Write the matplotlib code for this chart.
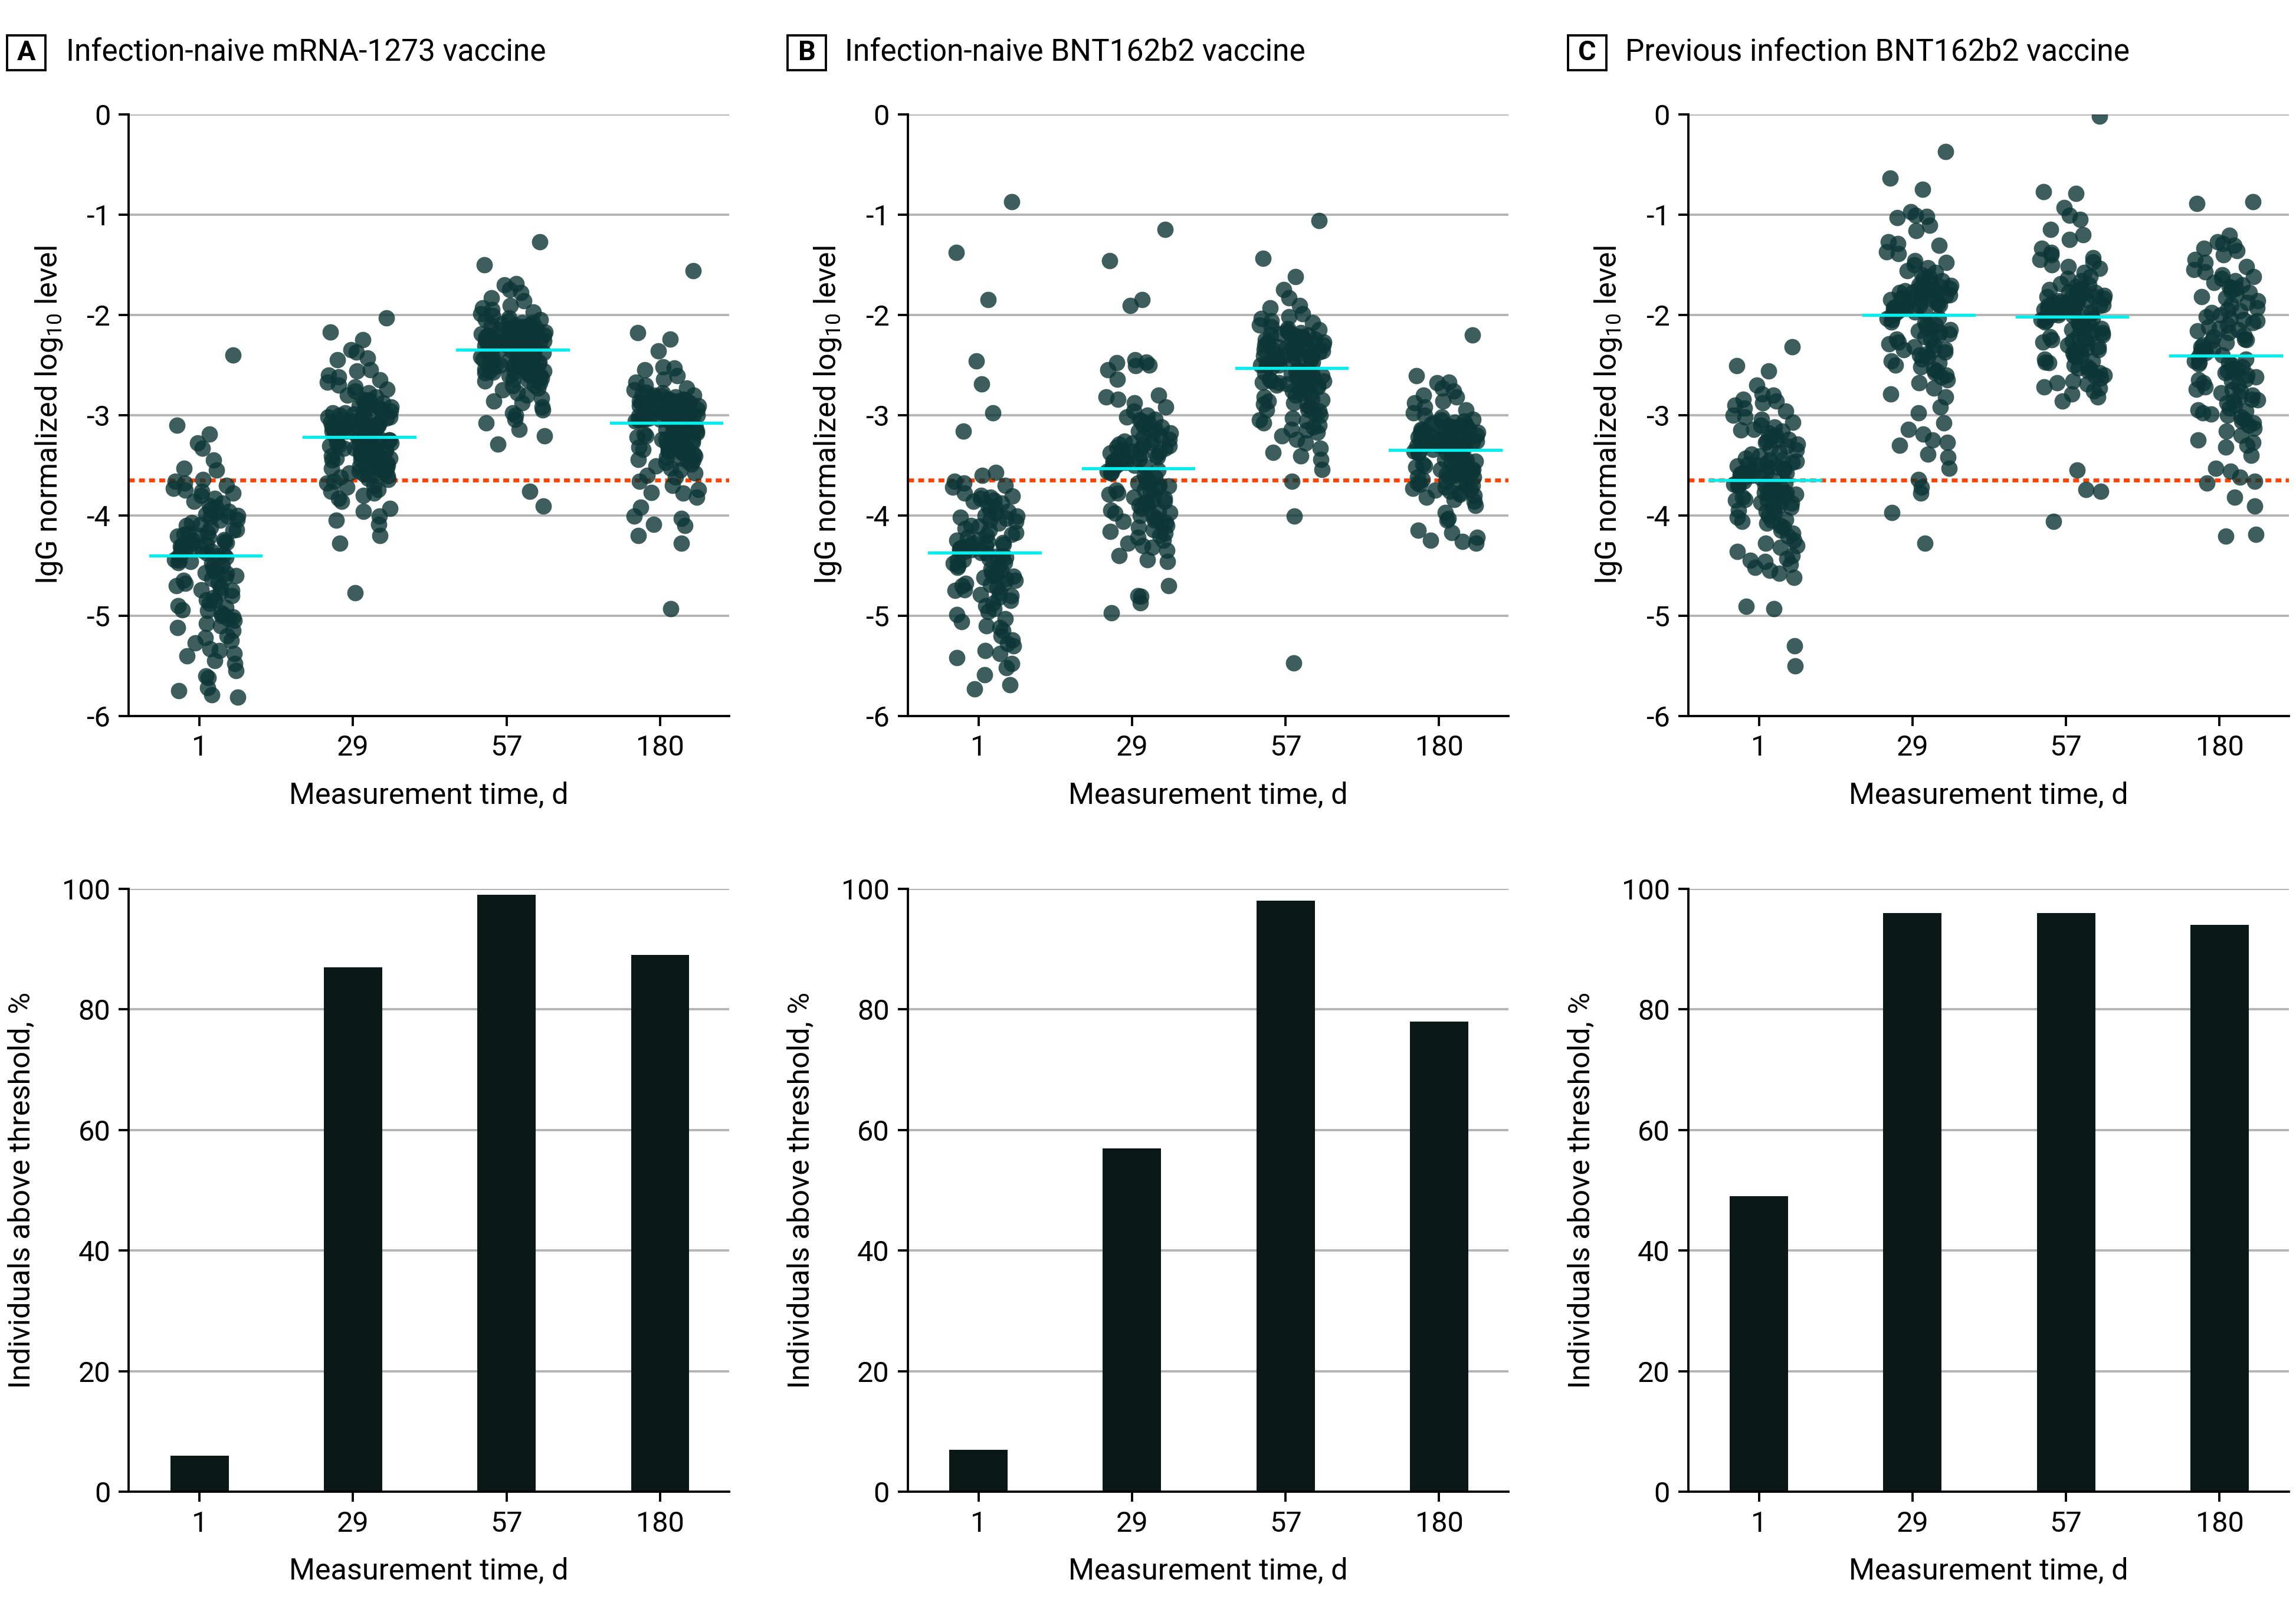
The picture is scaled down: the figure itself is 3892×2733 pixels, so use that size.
import numpy as np
import matplotlib
matplotlib.use('Agg')
import matplotlib.pyplot as plt
from matplotlib.patches import Rectangle

plt.rcParams['font.family'] = ['Roboto', 'DejaVu Sans']
plt.rcParams['mathtext.fontset'] = 'custom'
plt.rcParams['mathtext.rm'] = 'Roboto'
plt.rcParams['axes.unicode_minus'] = False

# ---- data ----
days = ['1', '29', '57', '180']
threshold = -3.65

titles = ['Infection-naive mRNA-1273 vaccine',
          'Infection-naive BNT162b2 vaccine',
          'Previous infection BNT162b2 vaccine']
panel_letters = ['A', 'B', 'C']

# IgG log10 levels (one list per panel and day)
a_d1 = [-2.40, -3.10, -3.19, -3.28, -3.33, -3.45, -3.53, -3.55,
        -3.64, -3.66, -3.68, -3.70, -3.73, -3.75, -3.76, -3.78, -3.80, -3.83, -3.86, -3.88, -3.90, -3.92,
        -3.94, -3.96, -3.97, -3.99, -4.00, -4.01, -4.02, -4.04, -4.05, -4.07, -4.09, -4.10, -4.12, -4.14,
        -4.15, -4.17, -4.18, -4.20, -4.21, -4.22, -4.24, -4.25, -4.26, -4.28, -4.29, -4.30, -4.31, -4.32,
        -4.33, -4.34, -4.35, -4.36, -4.37, -4.38, -4.39, -4.40, -4.27, -4.19,
        -4.41, -4.42, -4.44, -4.45, -4.47, -4.48, -4.50, -4.52, -4.53, -4.55, -4.57, -4.58, -4.60, -4.62,
        -4.63, -4.65, -4.67, -4.68, -4.70, -4.72, -4.74, -4.75, -4.77, -4.80, -4.82, -4.84, -4.85, -4.88,
        -4.90, -4.92, -4.94, -4.95, -4.97, -4.99, -5.00, -5.01, -5.03, -5.05, -5.08, -5.10, -5.12, -5.15,
        -5.20, -5.22, -5.25, -5.27, -5.33, -5.35, -5.38, -5.40, -5.45, -5.48, -5.55, -5.60, -5.62, -5.72,
        -5.75, -5.79, -5.81, -4.46]
a_d29 = [-2.03, -2.17, -2.25, -2.35, -2.37, -2.43, -2.45, -2.55, -2.56, -2.60, -2.62, -2.65, -2.67, -2.70,
         -2.72, -2.74, -2.76, -2.78, -2.80, -2.82, -2.84, -2.85, -2.87, -2.88, -2.90, -2.91, -2.92, -2.94,
         -2.95, -2.96, -2.97, -2.98, -2.99, -3.00, -3.01, -3.02, -3.03, -3.04, -3.05, -3.06, -3.07, -3.08,
         -3.09, -3.10, -3.11, -3.12, -3.13, -3.14, -3.15, -3.16, -3.17, -3.18, -3.19, -3.20, -3.21, -3.05,
         -3.10, -3.15, -2.93, -3.18, -3.12, -3.08, -3.02, -2.98, -3.16, -3.20, -3.14, -3.19, -3.11, -3.21,
         -3.23, -3.24, -3.25, -3.26, -3.27, -3.28, -3.29, -3.30, -3.31, -3.32, -3.33, -3.34, -3.35, -3.36,
         -3.37, -3.38, -3.39, -3.40, -3.41, -3.42, -3.43, -3.44, -3.45, -3.46, -3.47, -3.48, -3.49, -3.50,
         -3.51, -3.52, -3.53, -3.54, -3.55, -3.56, -3.57, -3.58, -3.59, -3.60, -3.61, -3.62, -3.63, -3.64,
         -3.25, -3.30, -3.35, -3.40, -3.45, -3.50, -3.28, -3.33, -3.38, -3.43,
         -3.66, -3.68, -3.70, -3.72, -3.74, -3.76, -3.78, -3.80, -3.83, -3.86, -3.93, -3.96, -4.01, -4.05,
         -4.09, -4.20, -4.28, -4.77]
a_d57 = [-1.27, -1.50, -1.69, -1.70, -1.75, -1.78, -1.83, -1.86, -1.91, -1.93, -1.95, -1.97, -1.99, -2.01,
         -2.03, -2.05, -2.06, -2.08, -2.09, -2.10, -2.11, -2.12, -2.13, -2.14, -2.15, -2.16, -2.17, -2.18,
         -2.19, -2.20, -2.21, -2.22, -2.23, -2.24, -2.25, -2.26, -2.27, -2.28, -2.29, -2.30, -2.31, -2.32,
         -2.33, -2.34, -2.12, -2.15, -2.18, -2.21, -2.24, -2.27, -2.30, -2.33, -2.14, -2.17, -2.20, -2.23,
         -2.26, -2.29, -2.32, -2.10, -2.05, -2.08, -2.19, -2.22, -2.25, -2.28, -2.31, -2.34, -2.16, -2.13,
         -2.36, -2.37, -2.38, -2.39, -2.40, -2.41, -2.42, -2.43, -2.44, -2.45, -2.46, -2.47, -2.48, -2.49,
         -2.50, -2.51, -2.52, -2.53, -2.54, -2.55, -2.56, -2.57, -2.58, -2.59, -2.60, -2.61, -2.62, -2.63,
         -2.64, -2.65, -2.66, -2.68, -2.70, -2.71, -2.73, -2.75, -2.78, -2.80, -2.83, -2.86, -2.88, -2.92,
         -2.95, -2.98, -3.00, -3.04, -3.08, -3.14, -3.21, -3.29, -3.76, -3.91, -2.38, -2.42, -2.46, -2.50,
         -2.54, -2.58, -2.40, -2.44, -2.48, -2.52, -2.56, -2.37, -2.41, -2.45, -2.49, -2.53, -2.57, -2.61]
a_d180 = [-1.56, -2.18, -2.24, -2.36, -2.52, -2.53, -2.55, -2.61, -2.64, -2.67, -2.70, -2.73, -2.75, -2.77,
          -2.78, -2.80, -2.81, -2.82, -2.83, -2.84, -2.85, -2.86, -2.87, -2.88, -2.89, -2.90, -2.91, -2.92,
          -2.93, -2.94, -2.95, -2.96, -2.97, -2.98, -2.99, -3.00, -3.01, -3.02, -3.03, -3.04, -3.05, -3.06,
          -3.07, -2.80, -2.85, -2.90, -2.95, -3.00, -3.05, -2.82, -2.87, -2.92, -2.97, -3.02, -2.79, -2.84,
          -2.89, -2.94, -2.99, -3.04, -2.86, -2.96, -3.06, -2.91, -3.01,
          -3.09, -3.10, -3.11, -3.12, -3.13, -3.14, -3.15, -3.16, -3.17, -3.18, -3.19, -3.20, -3.21, -3.22,
          -3.23, -3.24, -3.25, -3.26, -3.27, -3.28, -3.29, -3.30, -3.31, -3.32, -3.33, -3.34, -3.35, -3.36,
          -3.37, -3.38, -3.39, -3.40, -3.41, -3.42, -3.43, -3.44, -3.45, -3.46, -3.47, -3.49, -3.51, -3.53,
          -3.55, -3.58, -3.60, -3.62, -3.12, -3.18, -3.24, -3.30, -3.36,
          -3.66, -3.70, -3.74, -3.77, -3.78, -3.82, -3.92, -4.01, -4.03, -4.09, -4.10, -4.20, -4.28, -4.93]

b_d1 = [-0.87, -1.38, -1.85, -2.46, -2.69, -2.98, -3.16, -3.57,
        -3.60, -3.66, -3.68, -3.70, -3.72, -3.78, -3.80, -3.81, -3.83, -3.85, -3.86, -3.88, -3.90, -3.92,
        -3.94, -3.96, -3.98, -4.00, -4.01, -4.03, -4.05, -4.06, -4.08, -4.10, -4.11, -4.13, -4.15, -4.17,
        -4.19, -4.20, -4.22, -4.24, -4.25, -4.26, -4.27, -4.28, -4.29, -4.30, -4.31, -4.32, -4.33, -4.34,
        -4.35, -4.36, -4.37, -3.82, -4.02,
        -4.38, -4.40, -4.41, -4.42, -4.44, -4.45, -4.47, -4.48, -4.50, -4.52, -4.53, -4.55, -4.57, -4.58,
        -4.60, -4.62, -4.63, -4.65, -4.67, -4.69, -4.70, -4.72, -4.74, -4.75, -4.77, -4.79, -4.80, -4.82,
        -4.85, -4.88, -4.90, -4.93, -4.96, -4.99, -5.03, -5.06, -5.10, -5.12, -5.15, -5.20, -5.24, -5.28,
        -5.30, -5.35, -5.38, -5.42, -5.48, -5.52, -5.59, -5.69, -5.73, -4.43, -4.51, -4.61, -4.68]
b_d29 = [-1.15, -1.46, -1.85, -1.91, -2.45, -2.47, -2.48, -2.50, -2.51, -2.55, -2.64, -2.80, -2.82, -2.84,
         -2.88, -2.92, -2.96, -3.00, -3.02, -3.04, -3.06, -3.08, -3.10, -3.12, -3.14, -3.16, -3.18, -3.20,
         -3.22, -3.24, -3.25, -3.26, -3.28, -3.29, -3.30, -3.31, -3.33, -3.34, -3.35, -3.36, -3.38, -3.39,
         -3.40, -3.41, -3.42, -3.43, -3.44, -3.45, -3.46, -3.47, -3.48, -3.49, -3.50, -3.51, -3.52, -3.05,
         -3.15, -3.27, -3.37, -3.32,
         -3.54, -3.55, -3.56, -3.57, -3.58, -3.60, -3.62, -3.63,
         -3.66, -3.67, -3.68, -3.70, -3.71, -3.72, -3.74, -3.75, -3.76, -3.78, -3.79, -3.80, -3.82, -3.83,
         -3.85, -3.86, -3.88, -3.90, -3.91, -3.93, -3.95, -3.96, -3.98, -4.00, -4.01, -4.03, -4.05, -4.07,
         -4.08, -4.10, -4.12, -4.14, -4.16, -4.18, -4.20, -4.22, -4.25, -4.28, -4.30, -4.32, -4.35, -4.40,
         -4.44, -4.46, -4.70, -4.80, -4.81, -4.87, -4.97, -3.87, -3.97, -4.06]
b_d57 = [-1.06, -1.44, -1.62, -1.75, -1.83, -1.91, -1.93, -1.99, -2.02, -2.04, -2.06, -2.08, -2.10, -2.12,
         -2.14, -2.15, -2.16, -2.18, -2.19, -2.20, -2.21, -2.22, -2.23, -2.24, -2.25, -2.26, -2.27, -2.28,
         -2.29, -2.30, -2.31, -2.32, -2.33, -2.34, -2.35, -2.36, -2.37, -2.38, -2.39, -2.40, -2.41, -2.42,
         -2.43, -2.44, -2.45, -2.46, -2.47, -2.48, -2.49, -2.50, -2.51, -2.52, -2.17, -2.22, -2.27, -2.32,
         -2.37, -2.42, -2.47, -2.20, -2.30, -2.40, -2.50, -2.25, -2.35,
         -2.54, -2.55, -2.56, -2.57, -2.58, -2.59, -2.60, -2.61, -2.62, -2.63, -2.64, -2.65, -2.66, -2.67,
         -2.68, -2.69, -2.70, -2.71, -2.72, -2.74, -2.76, -2.78, -2.80, -2.82, -2.84, -2.86, -2.88, -2.90,
         -2.92, -2.94, -2.96, -2.98, -3.00, -3.03, -3.06, -3.08, -3.10, -3.12, -3.14, -3.17, -3.21, -3.24,
         -3.28, -3.33, -3.37, -3.41, -3.44, -3.54, -3.66, -4.01, -5.47, -2.58, -2.62, -2.66, -2.70, -2.75,
         -2.85, -2.95, -3.05, -2.60, -2.68, -2.79, -2.89, -3.15, -2.57]
b_d180 = [-2.20, -2.61, -2.67, -2.68, -2.73, -2.76, -2.80, -2.82, -2.86, -2.88, -2.92, -2.95, -2.98, -3.00,
          -3.02, -3.04, -3.05, -3.07, -3.08, -3.10, -3.11, -3.12, -3.13, -3.14, -3.15, -3.16, -3.17, -3.18,
          -3.19, -3.20, -3.21, -3.22, -3.23, -3.24, -3.25, -3.26, -3.27, -3.28, -3.29, -3.30, -3.31, -3.32,
          -3.33, -3.34, -3.06, -3.09, -3.12, -3.15, -3.18, -3.21, -3.24, -3.27, -3.30, -3.33, -3.14, -3.20,
          -3.26, -3.32, -3.10, -3.16, -3.22, -3.28,
          -3.36, -3.37, -3.38, -3.39, -3.40, -3.41, -3.42, -3.43, -3.44, -3.45, -3.46, -3.47, -3.48, -3.49,
          -3.50, -3.51, -3.52, -3.53, -3.54, -3.55, -3.56, -3.57, -3.58, -3.59, -3.60, -3.61, -3.62, -3.63,
          -3.64, -3.38, -3.42, -3.46, -3.50, -3.54, -3.58, -3.62,
          -3.66, -3.67, -3.68, -3.70, -3.71, -3.72, -3.74, -3.75, -3.76, -3.78, -3.80, -3.82, -3.84, -3.86,
          -3.90, -3.97, -4.03, -4.05, -4.15, -4.17, -4.22, -4.25, -4.26, -4.28, -3.69, -3.73, -3.79]

c_d1 = [-2.32, -2.51, -2.56, -2.70, -2.79, -2.80, -2.84, -2.86, -2.88, -2.90, -2.93, -2.96, -3.00, -3.02,
        -3.04, -3.07, -3.10, -3.12, -3.14, -3.16, -3.18, -3.20, -3.22, -3.24, -3.25, -3.27, -3.29, -3.31,
        -3.33, -3.35, -3.37, -3.39, -3.41, -3.43, -3.45, -3.46, -3.47, -3.48, -3.49, -3.50, -3.51, -3.52,
        -3.53, -3.54, -3.55, -3.56, -3.57, -3.58, -3.59, -3.60, -3.61, -3.62, -3.63, -3.64, -3.15, -3.26,
        -3.44, -3.52, -3.58,
        -3.66, -3.67, -3.68, -3.69, -3.70, -3.71, -3.72, -3.73, -3.74, -3.75, -3.76, -3.77, -3.78, -3.79,
        -3.80, -3.81, -3.82, -3.83, -3.84, -3.85, -3.86, -3.87, -3.88, -3.90, -3.92, -3.94, -3.96, -3.98,
        -4.00, -4.02, -4.04, -4.06, -4.08, -4.10, -4.12, -4.15, -4.18, -4.21, -4.25, -4.28, -4.32, -4.36,
        -4.40, -4.43, -4.46, -4.49, -4.52, -4.55, -4.58, -4.62, -4.91, -4.93, -5.30, -5.50, -3.70, -3.78,
        -3.85, -3.95, -4.05, -4.30, -4.45]
c_d29 = [-0.37, -0.64, -0.75, -0.97, -1.01, -1.02, -1.03, -1.11, -1.16, -1.27, -1.29, -1.31, -1.37, -1.39,
         -1.46, -1.48, -1.50, -1.53, -1.56, -1.58, -1.60, -1.62, -1.64, -1.66, -1.68, -1.70, -1.71, -1.72,
         -1.73, -1.74, -1.75, -1.76, -1.77, -1.78, -1.79, -1.80, -1.81, -1.82, -1.83, -1.84, -1.85, -1.86,
         -1.87, -1.88, -1.89, -1.90, -1.91, -1.92, -1.93, -1.94, -1.95, -1.96, -1.97, -1.98, -1.99, -1.72,
         -1.78, -1.84, -1.90, -1.96,
         -2.01, -2.03, -2.04, -2.05, -2.07, -2.08, -2.10, -2.11, -2.13, -2.14, -2.16, -2.17, -2.19, -2.20,
         -2.22, -2.24, -2.25, -2.27, -2.29, -2.30, -2.32, -2.34, -2.35, -2.37, -2.39, -2.40, -2.42, -2.44,
         -2.46, -2.48, -2.50, -2.52, -2.54, -2.56, -2.58, -2.60, -2.62, -2.65, -2.68, -2.73, -2.79, -2.82,
         -2.92, -2.98, -3.08, -3.14, -3.19, -3.25, -3.27, -3.30, -3.39, -3.42, -3.53, -3.64, -3.72, -3.78,
         -3.97, -4.28, -2.15, -2.35]
c_d57 = [-0.02, -0.77, -0.79, -0.93, -1.01, -1.05, -1.15, -1.20, -1.25, -1.34, -1.40, -1.43, -1.45, -1.50,
         -1.52, -1.54, -1.64, -1.66, -1.69, -1.70, -1.72, -1.74, -1.76, -1.78, -1.79, -1.80, -1.81, -1.82,
         -1.83, -1.84, -1.85, -1.86, -1.87, -1.88, -1.89, -1.90, -1.91, -1.92, -1.93, -1.94, -1.95, -1.96,
         -1.97, -1.98, -1.99, -2.00, -2.01, -1.75, -1.82, -1.88, -1.94, -2.00, -1.77, -1.85, -1.91, -1.97,
         -1.62, -1.58, -1.47, -1.38,
         -2.03, -2.04, -2.05, -2.06, -2.07, -2.08, -2.09, -2.10, -2.12, -2.13, -2.15, -2.16, -2.18, -2.19,
         -2.21, -2.22, -2.24, -2.25, -2.27, -2.28, -2.30, -2.32, -2.33, -2.35, -2.37, -2.38, -2.40, -2.42,
         -2.44, -2.46, -2.48, -2.50, -2.52, -2.54, -2.56, -2.58, -2.61, -2.63, -2.66, -2.69, -2.72, -2.73,
         -2.76, -2.79, -2.82, -2.86, -3.55, -3.74, -3.76, -4.06, -2.08, -2.14, -2.20, -2.26, -2.34, -2.41,
         -2.47, -2.53, -2.60, -2.68]
c_d180 = [-0.87, -0.89, -1.21, -1.27, -1.29, -1.31, -1.34, -1.36, -1.40, -1.45, -1.48, -1.52, -1.55, -1.57,
          -1.60, -1.62, -1.64, -1.66, -1.68, -1.70, -1.72, -1.74, -1.76, -1.78, -1.80, -1.83, -1.86, -1.88,
          -1.90, -1.93, -1.96, -1.98, -2.00, -2.02, -2.04, -2.06, -2.08, -2.10, -2.12, -2.14, -2.16, -2.18,
          -2.20, -2.22, -2.24, -2.26, -2.28, -2.30, -2.32, -2.34, -2.36, -2.38, -2.40, -1.73, -1.82, -1.95,
          -2.05, -2.15, -2.25, -2.35,
          -2.42, -2.44, -2.46, -2.47, -2.49, -2.50, -2.52, -2.53, -2.55, -2.57, -2.58, -2.60, -2.62, -2.64,
          -2.66, -2.68, -2.70, -2.72, -2.74, -2.76, -2.78, -2.80, -2.82, -2.84, -2.86, -2.88, -2.90, -2.93,
          -2.95, -2.96, -2.98, -3.00, -3.02, -3.04, -3.06, -3.08, -3.10, -3.13, -3.16, -3.20, -3.25, -3.27,
          -3.30, -3.32, -3.40, -3.53, -3.56, -3.62, -3.66, -3.68, -3.82, -3.91, -4.19, -4.21, -2.48, -2.56,
          -2.65, -2.75, -2.85, -2.99]

scatter_data = [[a_d1, a_d29, a_d57, a_d180],
                [b_d1, b_d29, b_d57, b_d180],
                [c_d1, c_d29, c_d57, c_d180]]

# medians (cyan lines)
med_a = [-4.40, -3.22, -2.35, -3.08]
med_b = [-4.37, -3.53, -2.53, -3.35]
med_c = [-3.65, -2.00, -2.02, -2.41]
medians = [med_a, med_b, med_c]

# % above threshold (bars)
pct_a = [6, 87, 99, 89]
pct_b = [7, 57, 98, 78]
pct_c = [49, 96, 96, 94]
percents = [pct_a, pct_b, pct_c]

# ---- figure ----
W, H = 1568.0, 1101.0
fig = plt.figure(figsize=(3892 / 250, 2733 / 250), dpi=250)

lefts = [88, 620, 1153]
title_x = [45, 577, 1110]
box_x = [5, 538, 1071]
ax_w = 410

dot_color = '#0d3535'
bar_color = '#0a1818'
grid_color = '#b3b3b3'
tick_fs = 14
label_fs = 14.5
pos = np.arange(len(days))


def style_axis(ax):
    ax.spines['top'].set_visible(False)
    ax.spines['right'].set_visible(False)
    ax.spines['left'].set_linewidth(1.1)
    ax.spines['bottom'].set_linewidth(1.1)
    ax.tick_params(axis='both', labelsize=tick_fs, length=5, width=1.1, pad=4)
    ax.set_xticks(pos)
    ax.set_xticklabels(days)
    ax.set_xlim(-0.46, 3.45)
    ax.yaxis.grid(True, color=grid_color, linewidth=1.1)
    ax.set_axisbelow(True)


def spread(n):
    # sideways position of each dot inside its column (fixed hash, same every run)
    k = np.arange(n) + 1.0
    return np.mod(np.abs(np.sin(k * 12.9898) * 43758.5453), 1.0)


for p in range(3):
    left = lefts[p] / W

    # scatter panel
    ax = fig.add_axes([left, 1 - 489 / H, ax_w / W, 411 / H])
    style_axis(ax)
    ax.set_ylim(-6, 0)
    ax.set_yticks([0, -1, -2, -3, -4, -5, -6])
    ax.axhline(threshold, color='#ff4000', linewidth=1.9, linestyle=(0, (1.5, 1.1)), zorder=1)
    for i, vals in enumerate(scatter_data[p]):
        xs = i - 0.17 + 0.42 * spread(len(vals))
        ax.scatter(xs, vals, s=64, color=dot_color, alpha=0.8, linewidths=0, zorder=2)
        ax.plot([i - 0.32, i + 0.40], [medians[p][i]] * 2, color='#00f0f0', linewidth=1.5, zorder=3)
    ax.set_ylabel('IgG normalized log$_{10}$ level', fontsize=label_fs)
    ax.yaxis.set_label_coords(-0.108, 0.5)
    ax.set_xlabel('Measurement time, d', fontsize=label_fs)
    ax.xaxis.set_label_coords(0.5, -0.108)

    # bar panel
    bx = fig.add_axes([left, 1 - 1019 / H, ax_w / W, 412 / H])
    style_axis(bx)
    bx.bar(pos, percents[p], width=0.38, color=bar_color, zorder=2)
    bx.set_ylim(0, 100)
    bx.set_yticks([0, 20, 40, 60, 80, 100])
    bx.set_ylabel('Individuals above threshold, %', fontsize=label_fs)
    bx.yaxis.set_label_coords(-0.155, 0.5)
    bx.set_xlabel('Measurement time, d', fontsize=label_fs)
    bx.xaxis.set_label_coords(0.5, -0.108)

    # panel letter box and title
    fig.add_artist(Rectangle((box_x[p] / W, 1 - 48 / H), 26 / W, 24 / H,
                             transform=fig.transFigure, facecolor='white',
                             edgecolor='black', linewidth=1.1))
    fig.text((box_x[p] + 13) / W, 1 - 36 / H, panel_letters[p], fontsize=13.5,
             fontweight='bold', ha='center', va='center')
    fig.text(title_x[p] / W, 1 - 36 / H, titles[p], fontsize=14.8, ha='left', va='center')

fig.savefig('out.png', dpi=250)
